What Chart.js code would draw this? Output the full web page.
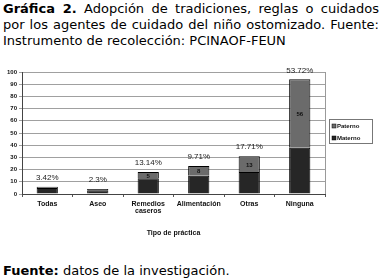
<!DOCTYPE html>
<html>
<head>
<meta charset="utf-8">
<script src="https://cdn.jsdelivr.net/npm/chart.js@4.4.1/dist/chart.umd.min.js"></script>
<style>
  body { margin: 0; width: 383px; height: 278px; background: #fff; position: relative; overflow: hidden; font-family: "DejaVu Sans", Verdana, sans-serif; }
  #caption { position: absolute; left: 3px; top: 1px; width: 376px; font-size: 13px; line-height: 16px; color: #000; }
  #caption div { white-space: nowrap; text-align: justify; text-align-last: justify; }
  #caption div.last { text-align-last: left; }
  #source { position: absolute; left: 3px; top: 263px; font-size: 13px; color: #000; white-space: nowrap; }
  #wrap { position: absolute; left: 0; top: 62px; width: 383px; height: 175px; }
</style>
</head>
<body>
<div id="caption">
  <div><b>Gráfica 2.</b> Adopción de tradiciones, reglas o cuidados</div>
  <div>por los agentes de cuidado del niño ostomizado. Fuente:</div>
  <div class="last">Instrumento de recolección: PCINAOF-FEUN</div>
</div>
<div id="wrap"><canvas id="chart" width="383" height="175"></canvas></div>
<div id="source"><b>Fuente:</b> datos de la investigación.</div>
<script>
const categories = ['Todas', 'Aseo', ['Remedios', 'caseros'], 'Alimentación', 'Otras', 'Ninguna'];
const materno = [5, 3, 13, 15, 18, 38];
const paterno = [1, 1, 5, 8, 13, 56];
const percentLabels = ['3.42%', '2.3%', '13.14%', '9.71%', '17.71%', '53.72%'];
const yTicks = [0, 10, 20, 30, 40, 50, 60, 70, 80, 90, 100];

const chartFont = '"Liberation Sans", Arial, sans-serif';

// labels above and inside the bars, right border and legend box
const extras = {
  id: 'extras',
  afterDatasetsDraw(chart) {
    const c = chart.ctx;
    const area = chart.chartArea;
    const y = chart.scales.y;
    const metaP = chart.getDatasetMeta(1);

    c.save();
    c.strokeStyle = '#9a9a9a';
    c.lineWidth = 1;
    c.beginPath();
    c.moveTo(Math.round(area.right) + 0.5, area.top);
    c.lineTo(Math.round(area.right) + 0.5, area.bottom);
    c.stroke();

    c.textAlign = 'center';
    c.textBaseline = 'middle';
    categories.forEach((cat, i) => {
      const x = metaP.data[i].x;
      const total = materno[i] + paterno[i];
      c.fillStyle = '#222';
      c.font = '8px ' + chartFont;
      c.fillText(percentLabels[i], x, y.getPixelForValue(total) - 9);

      const mid = (y.getPixelForValue(materno[i]) + y.getPixelForValue(total)) / 2;
      c.fillStyle = '#111';
      c.font = 'bold 6px ' + chartFont;
      if (paterno[i] >= 3) c.fillText(String(paterno[i]), x, mid + 1);
    });

    // legend (canvas starts 62px down the page)
    const lx = 329, ly = 57, lw = 43, lh = 24;
    c.fillStyle = '#fff';
    c.fillRect(lx, ly, lw, lh);
    c.strokeStyle = '#777';
    c.strokeRect(lx + 0.5, ly + 0.5, lw, lh);
    const items = [[chart.data.datasets[1], ly + 7], [chart.data.datasets[0], ly + 19]];
    c.textAlign = 'left';
    c.font = 'bold 6px ' + chartFont;
    items.forEach(([ds, yy]) => {
      c.fillStyle = ds.backgroundColor;
      c.fillRect(lx + 3, yy - 2, 4, 4);
      c.strokeStyle = '#000';
      c.lineWidth = 0.5;
      c.strokeRect(lx + 3, yy - 2, 4, 4);
      c.fillStyle = '#111';
      c.fillText(ds.label, lx + 8, yy);
    });
    c.restore();
  }
};

new Chart(document.getElementById('chart'), {
  type: 'bar',
  data: {
    labels: categories,
    datasets: [
      { label: 'Materno', data: materno, backgroundColor: '#262626', borderColor: '#000', borderWidth: 1, categoryPercentage: 1, barPercentage: 0.42 },
      { label: 'Paterno', data: paterno, backgroundColor: '#6b6b6b', borderColor: '#000', borderWidth: 1, categoryPercentage: 1, barPercentage: 0.42 }
    ]
  },
  options: {
    responsive: false,
    animation: false,
    layout: { padding: { top: 10, right: 58, left: 0, bottom: 0 } },
    plugins: { legend: { display: false }, tooltip: { enabled: false } },
    scales: {
      x: {
        stacked: true,
        afterFit(s) { s.height = 43; },
        grid: { display: true, drawOnChartArea: false, offset: true, tickLength: 3, color: '#555' },
        border: { color: '#444' },
        ticks: { color: '#111', padding: 3, maxRotation: 0, autoSkip: false, font: { family: chartFont, size: 7, weight: 'bold', lineHeight: 1.1 } },
        title: { display: true, text: 'Tipo de práctica', color: '#111', padding: { top: 5, bottom: 0 }, font: { family: chartFont, size: 7, weight: 'bold' } }
      },
      y: {
        stacked: true,
        min: 0,
        max: 100,
        afterFit(s) { s.width = 22; },
        afterBuildTicks(s) { s.ticks = yTicks.map(v => ({ value: v })); },
        grid: { color: '#a0a0a0', tickLength: 3, drawTicks: true },
        border: { color: '#444' },
        ticks: { color: '#111', padding: 2, font: { family: chartFont, size: 6, weight: 'bold' } }
      }
    }
  },
  plugins: [extras]
});
</script>
</body>
</html>
